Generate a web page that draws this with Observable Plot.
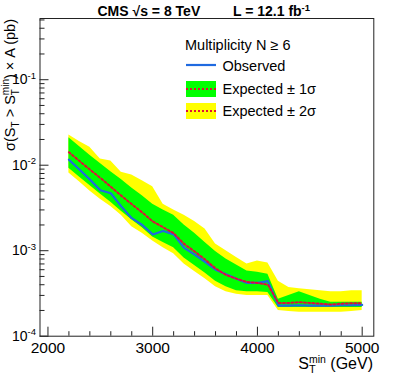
<!DOCTYPE html>
<html><head><meta charset="utf-8">
<script src="https://cdn.jsdelivr.net/npm/d3@7"></script>
<script src="https://cdn.jsdelivr.net/npm/@observablehq/plot@0.6"></script>
<style>
body{margin:0;background:#fff}
svg{font-family:"Liberation Sans",Arial,Helvetica,sans-serif}
</style>
</head><body><div id="chart"></div>
<script>
// S_T^min thresholds (GeV)
const stMin = [2200,2300,2400,2500,2600,2700,2800,2900,3000,3100,3200,3300,3400,3500,3600,3700,3800,3900,4000,4100,4200,4300,4400,4500,4600,4700,4800,4900,5000];
// observed limit (pb)
const observed = [0.0116,0.0089,0.0068,0.0051,0.0047,0.0033,0.0024,0.0020,0.00155,0.0017,0.00155,0.00108,0.00090,0.00074,0.00060,0.00053,0.00047,0.00042,0.00042,0.00044,0.000228,0.000228,0.00023,0.000228,0.000228,0.000228,0.00023,0.00023,0.000232];
// expected limit (pb)
const expected = [0.0142,0.0112,0.0089,0.0071,0.0056,0.0044,0.0035,0.0028,0.0022,0.00188,0.0016,0.0012,0.00098,0.00079,0.00062,0.00052,0.00047,0.00043,0.00042,0.00040,0.000245,0.000245,0.00025,0.000245,0.00024,0.000235,0.00024,0.000243,0.000243];
// +-1 sigma band
const up1 = [0.021,0.0165,0.0131,0.0105,0.0084,0.0068,0.0054,0.0044,0.0035,0.0030,0.0026,0.0020,0.0016,0.00125,0.00098,0.00080,0.00068,0.00058,0.00056,0.00053,0.00027,0.00030,0.00033,0.00030,0.00027,0.00025,0.00025,0.00025,0.00025];
const lo1 = [0.0092,0.0073,0.0058,0.0046,0.0037,0.0029,0.0023,0.00185,0.00145,0.00125,0.00108,0.00082,0.00067,0.00055,0.00044,0.00038,0.00034,0.00033,0.00033,0.000325,0.000217,0.000217,0.000217,0.000217,0.000217,0.000217,0.000217,0.000217,0.000217];
// +-2 sigma band
const up2 = [0.0226,0.019,0.0162,0.0118,0.0112,0.0083,0.0077,0.0066,0.0056,0.0035,0.0030,0.0026,0.0022,0.0018,0.0012,0.0010,0.00083,0.00070,0.00076,0.00072,0.00044,0.00037,0.00036,0.00035,0.00034,0.00033,0.00033,0.00034,0.00034];
const lo2 = [0.0081,0.0064,0.0050,0.0040,0.0033,0.0026,0.0019,0.0016,0.0013,0.00108,0.00092,0.00070,0.00057,0.00047,0.00038,0.00033,0.00031,0.00030,0.00030,0.00030,0.00020,0.000195,0.00019,0.00019,0.00019,0.00019,0.00019,0.000195,0.00020];

const xTicks = [2000,3000,4000,5000];
const yTicks = [1e-4,1e-3,1e-2,1e-1];
const yTickLabels = ["10^-4","10^-3","10^-2","10^-1"];

const rows = stMin.map((x,i)=>({x, obs:observed[i], exp:expected[i], hi1:up1[i], lo1:lo1[i], hi2:up2[i], lo2:lo2[i]}));

const W=393, H=374, mL=39.5, mR=19.7, mT=18, mB=38.3;
const fw = W-mL-mR, fh = H-mT-mB;
const xMinor = d3.range(2200, 5000, 200).filter(v=>v%1000!==0);
const yMinor = [];
[1e-4,1e-3,1e-2,1e-1].forEach(d=>{for(let k=2;k<=9;k++){const v=k*d; if(v<=0.52) yMinor.push(v);}});

const BLUE="#1f6ae0", RED="#e01038", GREEN="#00ff00", YELLOW="#ffff00";

const plot = Plot.plot({
  width: W, height: H,
  marginLeft: mL, marginRight: mR, marginTop: mT, marginBottom: mB,
  style: {fontFamily: '"Liberation Sans",Arial,Helvetica,sans-serif', background: "#fff", color: "#000"},
  x: {domain: [1924, 5111]},
  y: {type: "log", domain: [1e-4, 0.52]},
  marks: [
    Plot.areaY(rows, {x:"x", y1:"lo2", y2:"hi2", fill: YELLOW}),
    Plot.areaY(rows, {x:"x", y1:"lo1", y2:"hi1", fill: GREEN}),
    Plot.lineY(rows, {x:"x", y:"obs", stroke: BLUE, strokeWidth: 2.2}),
    Plot.lineY(rows, {x:"x", y:"exp", stroke: RED, strokeWidth: 2, strokeDasharray: "2,2.2"}),
    Plot.frame({stroke: "#222"}),
    Plot.ruleX(xTicks, {x: d=>d, insetTop: fh-9, stroke: "#222"}),
    Plot.ruleX(xMinor, {x: d=>d, insetTop: fh-4.5, stroke: "#222"}),
    Plot.ruleY(yTicks, {y: d=>d, insetRight: fw-9, stroke: "#222"}),
    Plot.ruleY(yMinor, {y: d=>d, insetRight: fw-5, stroke: "#222"}),
    Plot.axisX({ticks: xTicks, tickSize: 0, tickPadding: 6, fontSize: 15.5, tickFormat: d=>String(d), label: null}),
    Plot.axisY({ticks: yTicks, tickSize: 0, tickPadding: 4, fontSize: 14, tickFormat: d=>yTickLabels[yTicks.indexOf(d)], label: null})
  ]
});
document.getElementById("chart").appendChild(plot);

const svg = d3.select(plot);
// superscripts on y tick labels
svg.selectAll('g[aria-label="y-axis tick label"] text').each(function(){
  const t = this.textContent; const m = t.match(/^10\^(.*)$/);
  if (m) { this.textContent = ""; const s = d3.select(this);
    s.append("tspan").text("10");
    s.append("tspan").attr("dy", -5.5).attr("font-size", 9.5).text(m[1]); }
});

function rich(sel, parts){
  parts.forEach(p=>{ const ts = sel.append("tspan").text(p.t);
    if(p.size) ts.attr("font-size", p.size);
    if(p.dx!=null) ts.attr("dx", p.dx);
    if(p.dy!=null) ts.attr("dy", p.dy); });
  return sel;
}
const ff = '"Liberation Sans",Arial,Helvetica,sans-serif';
// title
rich(svg.append("text").attr("x", 97.5).attr("y", 16).attr("text-anchor","start").attr("font-size", 14).attr("font-weight", "bold").attr("font-family", ff).attr("fill","#000"),
  [{t:"CMS \u221As = 8 TeV"}]);
rich(svg.append("text").attr("x", 233).attr("y", 16).attr("text-anchor","start").attr("font-size", 14).attr("font-weight", "bold").attr("font-family", ff).attr("fill","#000"),
  [{t:"L = 12.1 fb"},{t:"-1", size:9.5, dy:-5.5}]);
// y title
rich(svg.append("text").attr("transform","translate(15,19) rotate(-90)").attr("text-anchor","end").attr("font-size", 14.5).attr("font-family", ff).attr("fill","#000"),
  [{t:"\u03C3(S"},{t:"T", size:10, dy:4},{t:" > S", size:14.5, dy:-4},{t:"T", size:10, dy:4},{t:"min", size:10, dx:-6.1, dy:-10.5},{t:") \u00D7 A (pb)", size:14.5, dy:6.5}]);
// x title
rich(svg.append("text").attr("x", 373).attr("y", 369).attr("text-anchor","end").attr("font-size", 16).attr("font-family", ff).attr("fill","#000"),
  [{t:"S"},{t:"T", size:11, dy:4},{t:"min", size:10.5, dx:-6.7, dy:-10.5},{t:" (GeV)", size:16, dy:6.5}]);

// legend
const lg = svg.append("g").attr("font-family", ff).attr("font-size", 14.5).attr("fill","#000").attr("text-anchor","start");
lg.append("text").attr("x", 185).attr("y", 50).text("Multiplicity N \u2265 6");
lg.append("line").attr("x1",186).attr("x2",216).attr("y1",65).attr("y2",65).attr("stroke",BLUE).attr("stroke-width",2.2);
lg.append("text").attr("x", 222.5).attr("y", 71).text("Observed");
lg.append("rect").attr("x",186).attr("y",81).attr("width",30).attr("height",16).attr("fill",GREEN);
lg.append("line").attr("x1",186).attr("x2",216).attr("y1",89).attr("y2",89).attr("stroke",RED).attr("stroke-width",2).attr("stroke-dasharray","2,2");
lg.append("text").attr("x", 222.5).attr("y", 93.7).text("Expected \u00B1 1\u03C3");
lg.append("rect").attr("x",186).attr("y",103).attr("width",30).attr("height",16).attr("fill",YELLOW);
lg.append("line").attr("x1",186).attr("x2",216).attr("y1",111).attr("y2",111).attr("stroke",RED).attr("stroke-width",2).attr("stroke-dasharray","2,2");
lg.append("text").attr("x", 222.5).attr("y", 115.5).text("Expected \u00B1 2\u03C3");
</script>
</body></html>
